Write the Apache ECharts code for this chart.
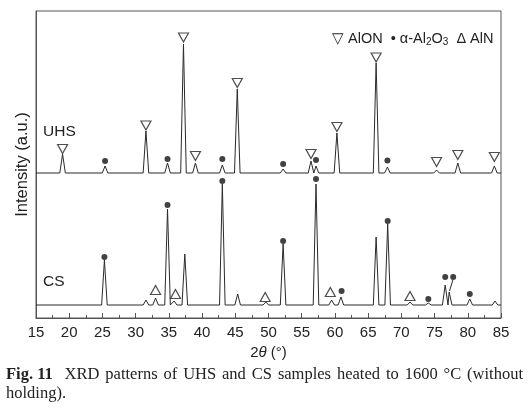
<!DOCTYPE html>
<html lang="en">
<head>
    <meta charset="UTF-8">
    <title>XRD UHS CS</title>
    <script src="https://cdn.jsdelivr.net/npm/echarts@6/dist/echarts.min.js"></script>
    <style>
        body { margin: 0; background: #fff; }
    </style>
</head>
<body>
    <div id="main" style="width: 529px;height:414px;"></div>
    <script type="text/javascript">
        // x tick labels (2theta)
        var xTicks = [15, 20, 25, 30, 35, 40, 45, 50, 55, 60, 65, 70, 75, 80, 85];

        // UHS pattern: baseline and peaks (2theta, intensity)
        var uhsBase = 145;
        var uhsPeakX = [19.0, 25.4, 31.55, 34.8, 37.2, 39.0, 43.05, 45.3, 52.2, 56.4, 57.15, 60.3, 66.2, 67.9, 75.3, 78.5, 84.0];
        var uhsPeakY = [164, 152, 187, 155, 274, 155, 153, 229, 149, 157, 152, 185, 255, 151, 148, 155, 152];

        // CS pattern
        var csBase = 13;
        var csPeakX = [25.3, 31.55, 33.0, 34.8, 35.8, 37.4, 43.05, 45.36, 49.6, 52.2, 57.15, 59.5, 60.9, 66.2, 67.94, 71.3, 74.06, 76.6, 77.2, 80.3, 84.1];
        var csPeakY = [58, 18, 20, 109, 17, 64, 134, 24, 16, 74, 134, 18, 21, 81, 94, 16, 15, 33, 26, 19, 17];

        // phase markers
        var alonX = [19.0, 31.55, 37.2, 39.0, 45.3, 56.4, 60.3, 66.2, 75.3, 78.5, 84.0];
        var alonY = [169, 192.5, 280.5, 162, 235, 164, 191, 260.5, 156, 163, 161];
        var corX = [25.4, 34.8, 43.05, 52.2, 57.15, 67.9, 25.3, 34.8, 43.05, 52.2, 57.15, 61.0, 67.94, 74.06, 76.6, 77.8, 80.3];
        var corY = [157, 159, 159, 154, 158, 157.5, 61, 113, 137, 77, 139, 27, 97, 19, 41, 41, 24];
        var alnX = [33.0, 36.0, 49.5, 59.3, 71.3];
        var alnY = [28, 24, 21, 26, 22];

        var caption1 = ['Fig. 11', 'XRD', 'patterns', 'of', 'UHS', 'and', 'CS', 'samples', 'heated', 'to', '1600', '°C', '(without'];
        var caption2 = 'holding).';

        function pattern(base, px, py) {
            var w = 0.42;
            var pts = [[15, base]];
            for (var i = 0; i < px.length; i++) {
                pts.push([px[i] - w, base]);
                pts.push([px[i], py[i]]);
                pts.push([px[i] + w, base]);
            }
            pts.push([85, base]);
            return pts;
        }

        function pairs(xs, ys) {
            var out = [];
            for (var i = 0; i < xs.length; i++) out.push([xs[i], ys[i]]);
            return out;
        }

        // justified first caption line: place words between x0 and x1
        var capFont = 16.5;
        function captionWords(x0, x1, top) {
            var ctx = document.createElement('canvas').getContext('2d');
            var widths = [];
            var total = 0;
            for (var i = 0; i < caption1.length; i++) {
                ctx.font = (i === 0 ? 'bold ' : '') + capFont + 'px "Liberation Serif"';
                var w = ctx.measureText(caption1[i]).width;
                widths.push(w);
                total += w;
            }
            // first gap (after Fig. 11) is a double gap
            var gaps = caption1.length; // n-1 gaps + 1 extra
            var g = (x1 - x0 - total) / gaps;
            var els = [];
            var x = x0;
            for (var j = 0; j < caption1.length; j++) {
                els.push({
                    type: 'text', left: x, top: top,
                    style: {
                        text: caption1[j], fontFamily: 'Liberation Serif', fontSize: capFont,
                        fontWeight: j === 0 ? 'bold' : 'normal', fill: '#222'
                    }
                });
                x += widths[j] + (j === 0 ? 2 * g : g);
            }
            return els;
        }

        var lineColor = '#2b2b2b';
        var myChart = echarts.init(document.getElementById('main'));
        var option = {
            animation: false,
            backgroundColor: '#fff',
            grid: {
                left: 36, right: 28, top: 11, bottom: 96,
                show: true, borderColor: '#555', borderWidth: 1
            },
            xAxis: {
                type: 'value', min: 15, max: 85, interval: 5,
                name: '2{i|θ} (°)',
                nameLocation: 'middle', nameGap: 27,
                nameTextStyle: {
                    fontFamily: 'Liberation Sans', fontSize: 15, color: '#222',
                    rich: { i: { fontStyle: 'italic', fontFamily: 'Liberation Sans', fontSize: 15, color: '#222' } }
                },
                axisLine: { lineStyle: { color: '#555' } },
                axisTick: { inside: true, length: 5, lineStyle: { color: '#555' } },
                minorTick: { show: true, splitNumber: 2, length: 3, lineStyle: { color: '#555' } },
                splitLine: { show: false },
                axisLabel: {
                    fontFamily: 'Liberation Sans', fontSize: 15, color: '#222', margin: 7,
                    formatter: function (v) { return xTicks.indexOf(v) >= 0 ? String(v) : ''; }
                }
            },
            yAxis: {
                type: 'value', min: 0, max: 307,
                name: 'Intensity (a.u.)',
                nameLocation: 'middle', nameGap: 5,
                nameTextStyle: { fontFamily: 'Liberation Sans', fontSize: 16.5, color: '#222' },
                axisLine: { show: true, lineStyle: { color: '#555' } },
                axisTick: { show: false },
                axisLabel: { show: false },
                splitLine: { show: false }
            },
            series: [
                {
                    name: 'UHS', type: 'line', data: pattern(uhsBase, uhsPeakX, uhsPeakY),
                    showSymbol: false, symbol: 'none',
                    lineStyle: { color: lineColor, width: 1 }
                },
                {
                    name: 'CS', type: 'line', data: pattern(csBase, csPeakX, csPeakY),
                    showSymbol: false, symbol: 'none',
                    lineStyle: { color: lineColor, width: 1 }
                },
                {
                    name: 'pointer', type: 'line', data: [[77.75, 38], [77.25, 27]],
                    showSymbol: false, symbol: 'none',
                    lineStyle: { color: lineColor, width: 1 }
                },
                {
                    name: 'AlON', type: 'scatter', data: pairs(alonX, alonY),
                    symbol: 'triangle', symbolRotate: 180, symbolSize: [10, 9],
                    itemStyle: { color: '#fff', borderColor: '#222', borderWidth: 1.2 }
                },
                {
                    name: 'Al2O3', type: 'scatter', data: pairs(corX, corY),
                    symbol: 'circle', symbolSize: 6,
                    itemStyle: { color: '#111' }
                },
                {
                    name: 'AlN', type: 'scatter', data: pairs(alnX, alnY),
                    symbol: 'triangle', symbolSize: [10, 9],
                    itemStyle: { color: '#fff', borderColor: '#222', borderWidth: 1.2 }
                }
            ],
            graphic: [
                {
                    type: 'text', left: 43, top: 124,
                    style: { text: 'UHS', fontFamily: 'Liberation Sans', fontSize: 15.5, fill: '#222' }
                },
                {
                    type: 'text', left: 43, top: 274,
                    style: { text: 'CS', fontFamily: 'Liberation Sans', fontSize: 15.5, fill: '#222' }
                },
                {
                    type: 'text', left: 332, top: 31,
                    style: {
                        text: '▽ AlON  • α-Al{s|2}O{s|3}  Δ AlN',
                        fontFamily: 'Liberation Sans', fontSize: 14.5, fill: '#222',
                        rich: { s: { fontSize: 10, padding: [8, 0, 0, 0], fill: '#222', fontFamily: 'Liberation Sans' } }
                    }
                },
                {
                    type: 'text', left: 6, top: 385,
                    style: { text: caption2, fontFamily: 'Liberation Serif', fontSize: capFont, fill: '#222' }
                }
            ].concat(captionWords(6, 523, 366))
        };
        myChart.setOption(option);
    </script>
</body>
</html>
